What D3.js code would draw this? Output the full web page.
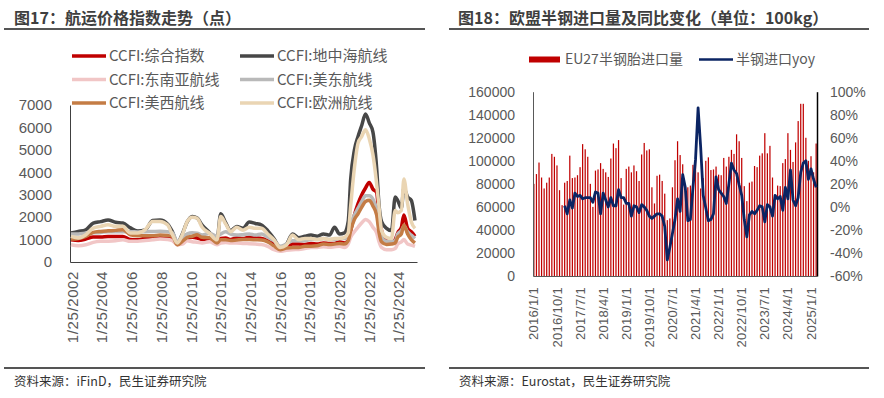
<!DOCTYPE html>
<html>
<head>
<meta charset="utf-8">
<script src="https://cdn.jsdelivr.net/npm/d3@7"></script>
<style>
  body { margin: 0; background: #fff; }
  svg { display: block; font-family: "Noto Sans CJK SC", "Noto Sans", sans-serif; }
</style>
</head>
<body>
<svg id="chart" width="884" height="398"></svg>
<script>
// ---------- data: CCFI (left chart) ----------
const ccfiDates = ["2002-01","2002-07","2003-01","2003-07","2004-01","2004-07","2005-01","2005-07",
  "2006-01","2006-07","2007-01","2007-07","2008-01","2008-07","2008-11","2009-03","2009-07","2009-11",
  "2010-03","2010-07","2010-11","2011-05","2011-11","2012-02","2012-06","2012-10","2013-03","2013-08",
  "2014-01","2014-06","2014-11","2015-04","2015-09","2016-02","2016-07","2016-12","2017-05","2017-10",
  "2018-03","2018-08","2019-01","2019-06","2019-10","2020-02","2020-06","2020-09","2020-11","2021-02",
  "2021-05","2021-08","2021-11","2022-02","2022-05","2022-08","2022-10","2022-12","2023-04","2023-08",
  "2023-11","2024-01","2024-04","2024-06","2024-09","2024-12","2025-03"];

const ccfiComposite = [990,960,1020,1110,1110,1140,1140,1140,1000,990,1070,1110,1140,1120,1000,780,850,1050,
  1100,1070,1000,1050,850,1050,1070,1000,1080,1050,1100,1080,1050,950,800,650,650,800,800,780,
  820,800,850,820,830,900,850,950,1400,2100,2600,3000,3300,3550,3250,3100,2000,1400,950,880,
  1000,1300,1550,2100,1500,1350,1150];
const ccfiMed = [1290,1360,1440,1730,1800,1870,1770,1740,1520,1380,1430,1850,1870,1700,1350,850,1250,1800,
  2030,1960,1650,1320,1000,2150,1750,1400,1580,1500,1780,1720,1650,1400,1050,650,780,1250,1080,1150,
  1200,1150,1250,1200,1550,1250,1300,1800,3700,5000,5600,6100,6600,6200,5800,4200,2500,1800,1500,1400,
  2900,2750,2400,3300,2900,2750,1850];
const ccfiSea = [770,730,770,875,920,930,950,990,920,930,960,990,1020,1000,950,770,800,950,
  900,880,850,900,770,850,875,850,850,830,815,800,780,700,550,475,520,550,560,600,
  650,650,680,660,680,700,650,800,1100,1350,1550,1750,1900,1800,1550,1300,900,650,550,550,
  600,800,900,1000,800,750,700];
const ccfiUsEast = [1250,1250,1280,1300,1320,1350,1350,1350,1350,1340,1350,1360,1370,1350,1300,900,1100,1250,
  1300,1280,1200,1280,1150,1250,1350,1250,1200,1220,1250,1200,1250,1100,950,700,800,950,950,950,
  1000,1000,1050,1000,1000,1050,1050,1200,1700,2100,2400,2700,2950,2950,2800,2300,1500,1100,920,920,
  950,1250,1400,1600,1350,1200,1050];
const ccfiUsWest = [1020,1050,1140,1320,1365,1390,1410,1440,1215,1170,1170,1170,1200,1180,1140,770,920,1100,
  1150,1215,1100,1080,850,990,990,960,980,1000,1000,990,980,900,720,550,620,650,650,700,
  700,720,800,780,800,820,800,950,1400,1900,2150,2450,2700,2750,2500,2100,1300,900,780,800,
  850,1100,1250,1650,1250,1000,850];
const ccfiEurope = [1140,1070,1215,1510,1590,1660,1590,1590,1290,1290,1440,1810,1810,1660,1215,845,1215,1810,
  2000,1950,1550,1280,990,2030,1700,1350,1550,1420,1550,1500,1500,1250,1000,650,750,1200,1000,1050,
  1050,1000,1050,1000,1050,1050,1100,1300,2500,4200,5300,5600,5900,5500,4800,3500,2400,1400,1100,1050,
  2300,2200,2300,3700,2600,1800,1500];

const ccfiTicks = [0,1000,2000,3000,4000,5000,6000,7000];
const ccfiTickDates = ["1/25/2002","1/25/2004","1/25/2006","1/25/2008","1/25/2010","1/25/2012",
  "1/25/2014","1/25/2016","1/25/2018","1/25/2020","1/25/2022","1/25/2024"];

// ---------- data: EU tyre imports (right chart) ----------
const euImports = [
  80000,88500,98500,85500,76000,81000,85500,106000,103500,96000,74500,61500,
  81000,82500,104500,85000,85500,87500,94500,114500,110000,103500,80000,60000,
  91500,92500,98000,93000,90000,86000,102000,115000,111000,118000,85000,62000,
  93000,95000,90000,96000,91000,82500,105500,115500,109000,110000,77000,63000,
  87000,88000,82500,71500,48500,50000,77000,100500,117000,105000,97000,77500,
  77000,78500,96500,101000,90000,76000,85000,100000,103000,92000,92500,95000,
  88000,87500,102500,95000,103500,109500,106000,123000,117000,102500,78000,65000,
  81000,82000,95500,94500,104500,106500,124000,106500,113000,85500,67500,78500,
  78000,98000,101500,124000,109500,99000,116000,134500,149500,149500,120000,100000,
  104000,90000,115000];
// yoy in %, no value for 2016
const euYoy = [
  null,null,null,null,null,null,null,null,null,null,null,null,
  1,-6,6,-1,12,9,10,7,8,8,8,4,
  13,12,-6,12,6,0,8,1,1,15,8,8,
  3,3,-8,1,0,-5,2,0,-3,-8,-10,-8,
  -6,-6,-8,-17,-46,-35,-23,-11,7,-4,28,17,
  -12,-11,17,41,86,52,10,-1,-12,-11,-6,26,
  15,12,9,3,20,38,32,29,19,10,-11,-26,
  -7,-4,-6,-3,1,0,-13,2,0,-8,10,7,
  9,-3,17,7,32,6,1,8,30,38,40,24,
  33,24,17];
const euTickLabels = ["2016/1/1","2016/10/1","2017/7/1","2018/4/1","2019/1/1","2019/10/1","2020/7/1",
  "2021/4/1","2022/1/1","2022/10/1","2023/7/1","2024/4/1","2025/1/1"];
const euLeftTicks = [0,20000,40000,60000,80000,100000,120000,140000,160000];
const euRightTicks = [-60,-40,-20,0,20,40,60,80,100];

// ---------- page ----------
const svg = d3.select("#chart");
const textColor = "#595959";

function header(x0, x1, tx, title) {
  svg.append("text").attr("x", tx).attr("y", 24)
    .attr("font-size", 16).attr("font-weight", "bold").attr("fill", "#3f3f3f").text(title);
  svg.append("line").attr("x1", x0).attr("x2", x1).attr("y1", 29).attr("y2", 29)
    .attr("stroke", "#555").attr("stroke-width", 2);
  svg.append("line").attr("x1", x0).attr("x2", x1).attr("y1", 368).attr("y2", 368)
    .attr("stroke", "#555").attr("stroke-width", 2);
}
header(4, 425, 14, "图17：航运价格指数走势（点）");
header(449, 869, 458, "图18：欧盟半钢进口量及同比变化（单位：100kg）");
svg.append("text").attr("x", 14).attr("y", 386).attr("font-size", 12.5).attr("fill", "#333")
  .text("资料来源：iFinD，民生证券研究院");
svg.append("text").attr("x", 459).attr("y", 386).attr("font-size", 12.5).attr("fill", "#333")
  .text("资料来源：Eurostat，民生证券研究院");

// ---------- left chart ----------
const parseMonth = d3.timeParse("%Y-%m");
const parseTick = d3.timeParse("%m/%d/%Y");
const dates = ccfiDates.map(parseMonth);
const tickDates = ccfiTickDates.map(parseTick);

const xL = d3.scaleTime()
  .domain([new Date(2001, 11, 8), new Date(2025, 3, 20)])
  .range([70, 417]);
const yL = d3.scaleLinear().domain([0, 7000]).range([262, 105]);

const gL = svg.append("g");

gL.append("g")
  .attr("transform", "translate(70,0)")
  .call(d3.axisLeft(yL).tickValues(ccfiTicks).tickSize(0).tickPadding(18).tickFormat(d3.format("d")))
  .call(g => g.select(".domain").attr("stroke", "#404040"))
  .call(g => g.selectAll("text").attr("font-size", 15).attr("fill", textColor).attr("font-family", null));

gL.append("g")
  .attr("transform", "translate(0,262)")
  .call(d3.axisBottom(xL).tickValues(tickDates).tickSize(0)
    .tickFormat((d, k) => ccfiTickDates[k]))
  .call(g => g.select(".domain").attr("stroke", "#404040"))
  .call(g => g.selectAll("text")
    .attr("transform", "rotate(-90)").attr("x", -9).attr("y", 0).attr("dy", "0.35em")
    .attr("text-anchor", "end").attr("font-size", 15).attr("letter-spacing", "0.6px")
    .attr("fill", textColor).attr("font-family", null));

const ccfiSeries = [
  {name: "CCFI:综合指数", values: ccfiComposite, color: "#c00000"},
  {name: "CCFI:地中海航线", values: ccfiMed, color: "#474747"},
  {name: "CCFI:东南亚航线", values: ccfiSea, color: "#f1c6c6"},
  {name: "CCFI:美东航线", values: ccfiUsEast, color: "#b9b9b9"},
  {name: "CCFI:美西航线", values: ccfiUsWest, color: "#c47c45"},
  {name: "CCFI:欧洲航线", values: ccfiEurope, color: "#ead5b3"}
];

const lineL = d3.line().x((d, i) => xL(dates[i])).y(d => yL(d)).curve(d3.curveMonotoneX);

gL.selectAll(".ccfi")
  .data(ccfiSeries)
  .enter()
  .append("path")
    .attr("class", "ccfi")
    .attr("fill", "none")
    .attr("stroke", d => d.color)
    .attr("stroke-width", 3.5)
    .attr("stroke-linejoin", "round")
    .attr("d", d => lineL(d.values));

// legend 2 columns x 3 rows
ccfiSeries.forEach((s, i) => {
  const lx = i % 2 === 0 ? 72 : 240;
  const ly = 56 + Math.floor(i / 2) * 23.5;
  gL.append("line").attr("x1", lx).attr("x2", lx + 34).attr("y1", ly).attr("y2", ly)
    .attr("stroke", s.color).attr("stroke-width", 3.5);
  gL.append("text").attr("x", lx + 37).attr("y", ly).attr("dy", "0.35em")
    .attr("font-size", 15).attr("fill", textColor).text(s.name);
});

// ---------- right chart ----------
const xR = d3.scaleBand().domain(d3.range(euImports.length)).range([533, 817]).paddingInner(0.52).paddingOuter(0.1);
const yR = d3.scaleLinear().domain([0, 160000]).range([276, 91.7]);
const yR2 = d3.scaleLinear().domain([-60, 100]).range([276, 91.7]);

const gR = svg.append("g");

gR.selectAll(".bar")
  .data(euImports)
  .enter()
  .append("rect")
    .attr("class", "bar")
    .attr("x", (d, i) => xR(i))
    .attr("y", d => yR(d))
    .attr("width", xR.bandwidth())
    .attr("height", d => yR(0) - yR(d))
    .attr("fill", "#c00000");

gR.append("g")
  .attr("transform", "translate(533,0)")
  .call(d3.axisLeft(yR).tickValues(euLeftTicks).tickSize(0).tickPadding(18).tickFormat(d3.format("d")))
  .call(g => g.select(".domain").attr("stroke", "#595959"))
  .call(g => g.selectAll("text").attr("font-size", 14).attr("fill", textColor).attr("font-family", null));

gR.append("g")
  .attr("transform", "translate(817,0)")
  .call(d3.axisRight(yR2).tickValues(euRightTicks).tickSize(0).tickPadding(13).tickFormat(d => d + "%"))
  .call(g => g.select(".domain").attr("stroke", "#000").attr("stroke-width", 1.5))
  .call(g => g.selectAll("text").attr("font-size", 14).attr("fill", textColor).attr("font-family", null));

const tickIdx = euTickLabels.map((t, k) => k * 9);
gR.append("g")
  .attr("transform", "translate(0,276)")
  .call(d3.axisBottom(xR).tickValues(tickIdx).tickSize(0).tickFormat((d, k) => euTickLabels[k]))
  .call(g => g.select(".domain").attr("stroke", "#595959"))
  .call(g => g.selectAll("text")
    .attr("transform", "rotate(-90)").attr("x", -11).attr("y", 0).attr("dy", "0.35em")
    .attr("text-anchor", "end").attr("font-size", 13).attr("letter-spacing", "0.3px")
    .attr("fill", textColor).attr("font-family", null));

const lineR = d3.line()
  .defined(d => d !== null)
  .x((d, i) => xR(i) + xR.bandwidth() / 2)
  .y(d => yR2(d));

gR.append("path")
  .attr("fill", "none")
  .attr("stroke", "#0b2463")
  .attr("stroke-width", 2.8)
  .attr("stroke-linejoin", "round")
  .attr("d", lineR(euYoy));

// legend
gR.append("rect").attr("x", 529).attr("y", 56.5).attr("width", 31).attr("height", 6).attr("fill", "#c00000");
gR.append("text").attr("x", 565).attr("y", 59.5).attr("dy", "0.35em").attr("font-size", 14)
  .attr("fill", textColor).text("EU27半钢胎进口量");
gR.append("line").attr("x1", 699).attr("x2", 733).attr("y1", 59.5).attr("y2", 59.5)
  .attr("stroke", "#0b2463").attr("stroke-width", 2.6);
gR.append("text").attr("x", 736).attr("y", 59.5).attr("dy", "0.35em").attr("font-size", 14)
  .attr("fill", textColor).text("半钢进口yoy");
</script>
</body>
</html>
